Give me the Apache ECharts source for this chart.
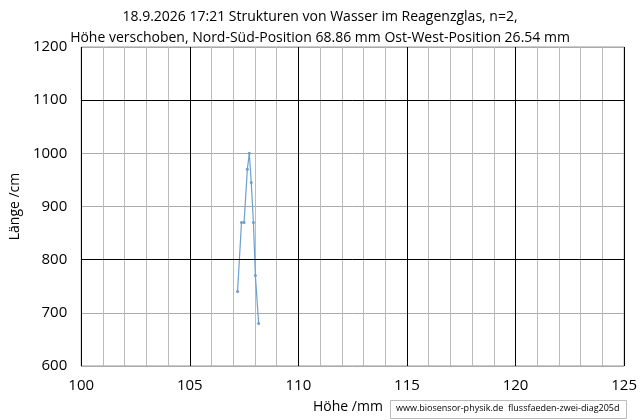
<!DOCTYPE html><html><head><meta charset="utf-8"><script src="https://cdn.jsdelivr.net/npm/echarts@6/dist/echarts.min.js"></script></head><body style="margin:0"><div id="c" style="width:640px;height:420px"></div><script>
const xs=[107.2,107.38,107.5,107.65,107.74,107.83,107.93,108.02,108.17];
const ys=[740,870,870,970,1000,945,870,770,680];
const titleText='18.9.2026 17:21 Strukturen von Wasser im Reagenzglas, n=2,\nHöhe verschoben, Nord-Süd-Position 68.86 mm Ost-West-Position 26.54 mm';
const F='Open Sans, Liberation Sans, sans-serif';
const ch=echarts.init(document.getElementById('c'));
ch.setOption({animation:false,
title:{text:titleText,left:'center',top:2,textStyle:{fontFamily:F,fontSize:14,fontWeight:'normal',color:'#000',lineHeight:21}},
grid:{left:73,right:15,top:47,bottom:54,show:true,borderColor:'#999',borderWidth:1},
xAxis:{type:'value',min:100,max:125,interval:5,
axisLine:{show:false},axisTick:{show:false},axisLabel:{fontFamily:F,fontSize:15,color:'#000',margin:12,formatter:v=>String(v)},
splitLine:{lineStyle:{color:'#000',width:1}},minorTick:{show:false,splitNumber:5},minorSplitLine:{show:true,lineStyle:{color:'#bbb',width:1}}},
yAxis:{type:'value',min:600,max:1200,interval:100,name:'Länge /cm',nameLocation:'middle',nameGap:46,
nameTextStyle:{fontFamily:F,fontSize:14,color:'#000'},axisLine:{show:false},axisTick:{show:false},
axisLabel:{fontFamily:F,fontSize:15,color:'#000',margin:14,formatter:v=>String(v)},splitLine:{lineStyle:{color:'#aaa'}}},
graphic:[{type:'text',left:313,top:400,style:{text:'Höhe /mm',font:'14px '+F,fill:'#000'}},
{type:'rect',left:390,top:400,shape:{width:236,height:18},style:{fill:'#fff',stroke:'#bbb'}},
{type:'text',left:396,top:404,style:{text:'www.biosensor-physik.de  flussfaeden-zwei-diag205d',font:'9px '+F,fill:'#000'}}],
series:[{type:'line',data:xs.map((x,i)=>[x,ys[i]]),symbol:'circle',symbolSize:3,
lineStyle:{color:'#6a9fcf',width:1.2},itemStyle:{color:'#6a9fcf'},
markLine:{silent:true,symbol:'none',label:{show:false},lineStyle:{color:'#000',type:'solid',width:1},data:[{yAxis:800},{yAxis:1100}]}}]});
</script></body></html>
